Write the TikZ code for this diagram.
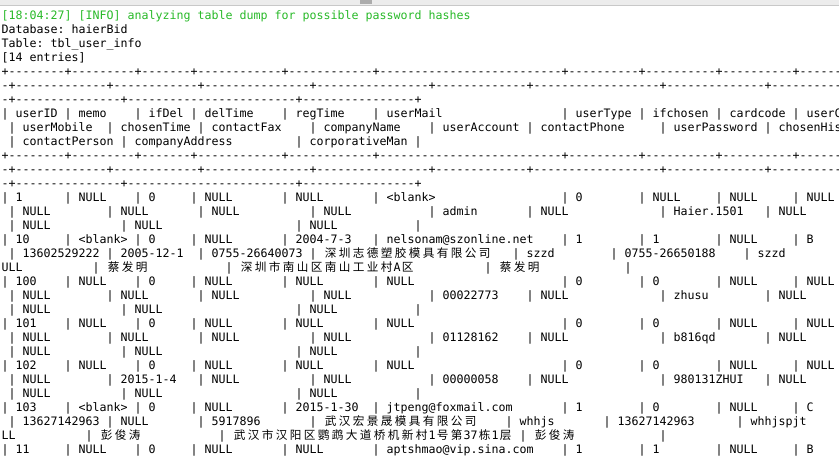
\documentclass[tikz,border=0pt]{standalone}
\usepackage{fontspec}
\setmonofont{DejaVu Sans Mono}
\newfontfamily\cjk{Noto Sans CJK SC}
\usepackage{tikz}
\definecolor{termgreen}{RGB}{40,185,40}
\definecolor{barfill}{RGB}{236,236,236}
\definecolor{baredge}{RGB}{200,200,200}
\definecolor{barknob}{RGB}{172,172,172}
\newlength\colw
\setlength\colw{7pt}
\newcommand\hy[1]{\foreach\k in {1,...,#1}{-}}
\newcommand\zh[1]{\zhnext#1\relax}
\newcommand\zhnext[1]{\ifx\relax#1\else\makebox[2\colw]{\cjk#1}\expandafter\zhnext\fi}
\newcommand\cell[2]{|\ \makebox[#1\colw][l]{#2}\ }
\newcommand\lineA[9]{\cell{6}{#1}\cell{7}{#2}\cell{5}{#3}\cell{10}{#4}\cell{10}{#5}\cell{24}{#6}\cell{8}{#7}\cell{8}{#8}\cell{8}{#9}}
\newcommand\lineB[7]{\ \cell{11}{#1}\cell{10}{#2}\cell{13}{#3}\cell{14}{#4}\cell{11}{#5}\cell{16}{#6}\cell{12}{#7}}
\newcommand\lineC[3]{\ \cell{13}{#1}\cell{22}{#2}\cell{14}{#3}|}
\newcommand\sepA{+\hy{8}+\hy{9}+\hy{7}+\hy{12}+\hy{12}+\hy{26}+\hy{10}+\hy{10}+\hy{10}+\hy{8}}
\newcommand\sepB{-+\hy{13}+\hy{12}+\hy{15}+\hy{16}+\hy{13}+\hy{18}+\hy{14}+\hy{10}}
\newcommand\sepC{-+\hy{15}+\hy{24}+\hy{16}+}
\tikzstyle{term}=[anchor=base west, inner sep=0pt, font=\ttfamily\fontsize{11.627pt}{14pt}\selectfont]
\tikzstyle{info}=[term, text=termgreen]
\tikzstyle{bar}=[fill=barfill, draw=none]

\begin{document}
\begin{tikzpicture}[x=1pt, y=-1pt]
	\useasboundingbox (0,0) rectangle (839,456);
	\clip (0,0) rectangle (839,456);
	
	%The window edge
	\fill[bar] (0,0) rectangle (839,5);
	\fill[barknob] (360,0) rectangle (372,3.5);
	\draw[baredge] (0,5) -- (839,5);
	
	%The log lines
	\draw (1.5,19.5) node[info] (info) {[18:04:27] [INFO] analyzing table dump for possible password hashes};
	\draw (1.5,33.5) node[term] (db) {Database: haierBid};
	\draw (1.5,47.5) node[term] (tbl) {Table: tbl\_user\_info};
	\draw (1.5,61.5) node[term] (count) {[14 entries]};
	
	%The table head
	\draw (1.5,75.5) node[term] (sepa1) {\sepA};
	\draw (1.5,89.5) node[term] (sepb1) {\sepB};
	\draw (1.5,103.5) node[term] (sepc1) {\sepC};
	\draw (1.5,117.5) node[term] (heada) {\lineA{userID}{memo}{ifDel}{delTime}{regTime}{userMail}{userType}{ifchosen}{cardcode}|\ userC};
	\draw (1.5,131.5) node[term] (headb) {\lineB{userMobile}{chosenTime}{contactFax}{companyName}{userAccount}{contactPhone}{userPassword}|\ chosenHis};
	\draw (1.5,145.5) node[term] (headc) {\lineC{contactPerson}{companyAddress}{corporativeMan}};
	\draw (1.5,159.5) node[term] (sepa2) {\sepA};
	\draw (1.5,173.5) node[term] (sepb2) {\sepB};
	\draw (1.5,187.5) node[term] (sepc2) {\sepC};
	
	%The rows
	\draw (1.5,201.5) node[term] (rowa1) {\lineA{1}{NULL}{0}{NULL}{NULL}{<blank>}{0}{NULL}{NULL}|\ NULL};
	\draw (1.5,215.5) node[term] (rowb1) {\lineB{NULL}{NULL}{NULL}{NULL}{admin}{NULL}{Haier.1501}|\ NULL};
	\draw (1.5,229.5) node[term] (rowc1) {\lineC{NULL}{NULL}{NULL}};
	
	\draw (1.5,243.5) node[term] (rowa10) {\lineA{10}{<blank>}{0}{NULL}{2004-7-3}{nelsonam@szonline.net}{1}{1}{NULL}|\ B};
	\draw (1.5,257.5) node[term] (rowb10) {\ \cell{11}{13602529222}\cell{10}{2005-12-1}\cell{13}{0755-26640073}\cell{26}{\zh{深圳志德塑胶模具有限公司}}\cell{11}{szzd}\cell{16}{0755-26650188}\cell{12}{szzd}};
	\draw (1.5,271.5) node[term] (rowc10) {\makebox[13\colw][l]{ULL}\cell{16}{\zh{蔡发明}}\cell{34}{\zh{深圳市南山区南山工业村}A\zh{区}}\cell{17}{\zh{蔡发明}}|};
	
	\draw (1.5,285.5) node[term] (rowa100) {\lineA{100}{NULL}{0}{NULL}{NULL}{NULL}{0}{0}{NULL}|\ NULL};
	\draw (1.5,299.5) node[term] (rowb100) {\lineB{NULL}{NULL}{NULL}{NULL}{00022773}{NULL}{zhusu}|\ NULL};
	\draw (1.5,313.5) node[term] (rowc100) {\lineC{NULL}{NULL}{NULL}};
	
	\draw (1.5,327.5) node[term] (rowa101) {\lineA{101}{NULL}{0}{NULL}{NULL}{NULL}{0}{0}{NULL}|\ NULL};
	\draw (1.5,341.5) node[term] (rowb101) {\lineB{NULL}{NULL}{NULL}{NULL}{01128162}{NULL}{b816qd}|\ NULL};
	\draw (1.5,355.5) node[term] (rowc101) {\lineC{NULL}{NULL}{NULL}};
	
	\draw (1.5,369.5) node[term] (rowa102) {\lineA{102}{NULL}{0}{NULL}{NULL}{NULL}{0}{0}{NULL}|\ NULL};
	\draw (1.5,383.5) node[term] (rowb102) {\lineB{NULL}{2015-1-4}{NULL}{NULL}{00000058}{NULL}{980131ZHUI}|\ NULL};
	\draw (1.5,397.5) node[term] (rowc102) {\lineC{NULL}{NULL}{NULL}};
	
	\draw (1.5,411.5) node[term] (rowa103) {\lineA{103}{<blank>}{0}{NULL}{2015-1-30}{jtpeng@foxmail.com}{1}{0}{NULL}|\ C};
	\draw (1.5,425.5) node[term] (rowb103) {\ \cell{11}{13627142963}\cell{10}{NULL}\cell{13}{5917896}\cell{25}{\zh{武汉宏景晟模具有限公司}}\cell{11}{whhjs}\cell{16}{13627142963}\cell{12}{whhjspjt}};
	\draw (1.5,439.5) node[term] (rowc103) {\makebox[12\colw][l]{LL}\cell{16}{\zh{彭俊涛}}\cell{40}{\zh{武汉市汉阳区鹦鹉大道桥机新村}1\zh{号第}37\zh{栋}1\zh{层}}\cell{17}{\zh{彭俊涛}}|};
	
	\draw (1.5,453.5) node[term] (rowa11) {\lineA{11}{NULL}{0}{NULL}{NULL}{aptshmao@vip.sina.com}{1}{1}{NULL}|\ B};
\end{tikzpicture}
\end{document}
